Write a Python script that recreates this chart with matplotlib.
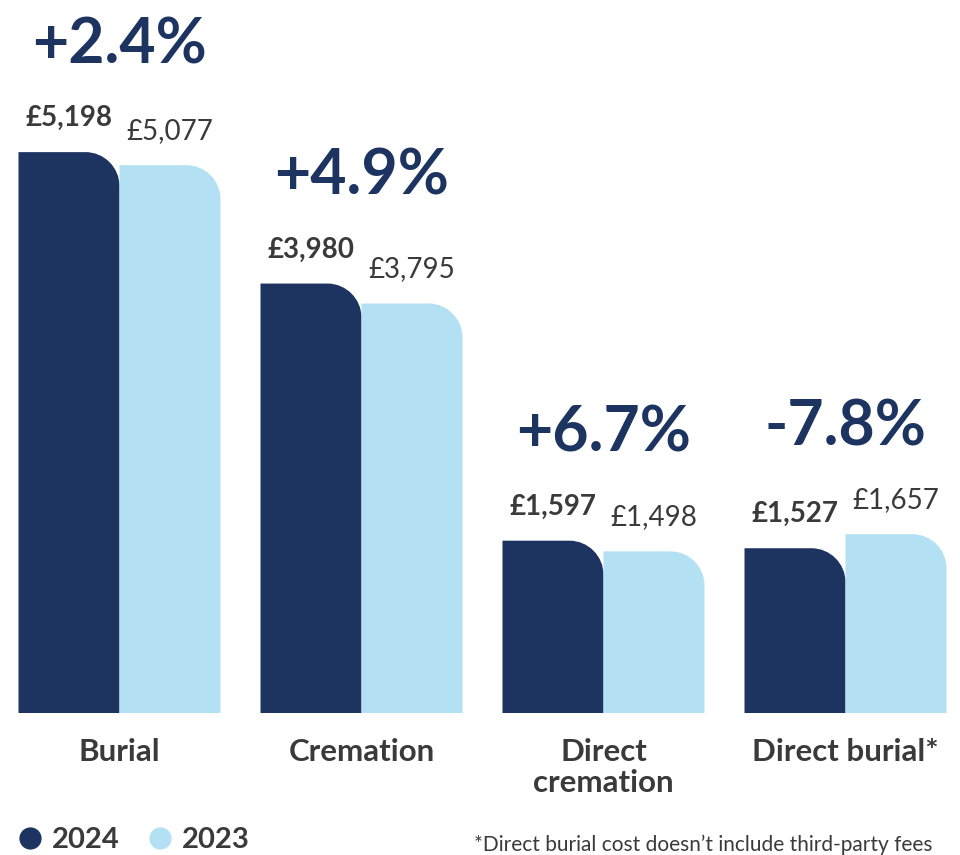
import matplotlib.pyplot as plt
from matplotlib.path import Path
from matplotlib.patches import PathPatch
from matplotlib.lines import Line2D

# funeral costs, 2024 vs 2023
categories = ["Burial", "Cremation", "Direct\ncremation", "Direct burial*"]
cost_2024 = [5198, 3980, 1597, 1527]
cost_2023 = [5077, 3795, 1498, 1657]
changes = ["+2.4%", "+4.9%", "+6.7%", "-7.8%"]
years = ["2024", "2023"]

NAVY = "#1d3461"
LIGHT = "#b3e1f3"
GREY = "#3a3a3a"

plt.rcParams['font.family'] = ['Lato', 'DejaVu Sans']

W, H = 960, 855
fig = plt.figure(figsize=(W / 100, H / 100), dpi=100)

# axes: bottom edge of bars at y=713px, full width
ax = fig.add_axes([0, (H - 713) / H, 1, 713 / H])
px_per_x = 242.0
px_per_y = 0.1079
ax.set_xlim(-119.5 / px_per_x, (W - 119.5) / px_per_x)
ax.set_ylim(0, 713 / px_per_y)
ax.axis("off")

bw = 101 / px_per_x
rx = 34 / px_per_x
ry = 34 / px_per_y


def round_bar(x0, h, color):
    # bar with only the top-right corner rounded
    x1 = x0 + bw
    k = 0.55
    verts = [(x0, 0), (x0, h), (x1 - rx, h),
             (x1 - rx + k * rx, h), (x1, h - ry + k * ry), (x1, h - ry),
             (x1, 0), (x0, 0)]
    codes = [Path.MOVETO, Path.LINETO, Path.LINETO,
             Path.CURVE4, Path.CURVE4, Path.CURVE4,
             Path.LINETO, Path.CLOSEPOLY]
    ax.add_patch(PathPatch(Path(verts, codes), facecolor=color,
                           edgecolor="none"))


lab_off = 34 / px_per_y
pct_off = (34 + 73) / px_per_y

for i, cat in enumerate(categories):
    a, b = cost_2024[i], cost_2023[i]
    round_bar(i - bw, a, NAVY)
    round_bar(i, b, LIGHT)
    ax.text(i - bw / 2, a + lab_off, f"£{a:,}", ha="center", va="center",
            fontsize=20, fontweight="bold", color=GREY)
    ax.text(i + bw / 2, b + lab_off, f"£{b:,}", ha="center", va="center",
            fontsize=20, color=GREY)
    ax.text(i, max(a, b) + pct_off, changes[i], ha="center", va="center",
            fontsize=45, fontweight="bold", color=NAVY)
    ax.text(i, -25 / px_per_y, cat, ha="center", va="top",
            fontsize=22.5, fontweight="bold", color=GREY, linespacing=1.12,
            clip_on=False)

handles = [Line2D([], [], marker="o", linestyle="none", markersize=16,
                  markerfacecolor=c, markeredgecolor="none")
           for c in (NAVY, LIGHT)]
leg = fig.legend(handles, years, loc="center left",
                 bbox_to_anchor=(-11 / W, (H - 840) / H), ncol=2, frameon=False,
                 handletextpad=0.25, columnspacing=0.9, handlelength=1.0,
                 prop={"size": 21, "weight": "bold"})
for t in leg.get_texts():
    t.set_color(GREY)

fig.text(474 / W, 0 / H,
         "*Direct burial cost doesn\u2019t include third-party fees",
         ha="left", va="bottom", fontsize=15, color=GREY)

fig.savefig("out.png", dpi=100)
